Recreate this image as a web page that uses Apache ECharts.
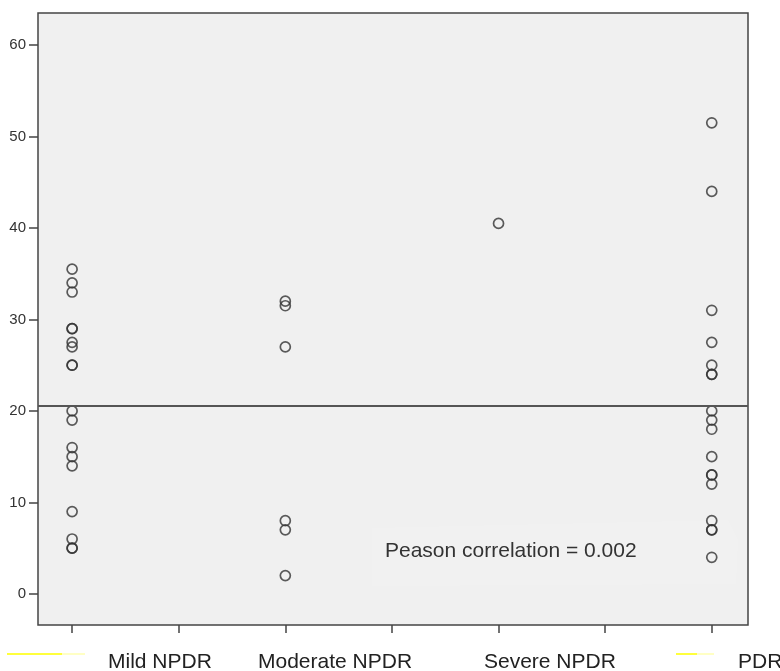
<!DOCTYPE html>
<html>
<head>
<meta charset="utf-8">
<script src="https://cdn.jsdelivr.net/npm/echarts@6/dist/echarts.min.js"></script>
<style>
  html, body { margin: 0; padding: 0; background: #ffffff; }
  #chart { width: 780px; height: 671px; }
</style>
</head>
<body>
<div id="chart"></div>
<script>
// Retinopathy groups along the x axis
const categories = ['Mild NPDR', 'Moderate NPDR', 'Severe NPDR', 'PDR'];

// Measured values per group
const mildValues = [35.5, 34, 33, 29, 29, 27.5, 27, 25, 25, 20, 19, 16, 15, 14, 9, 6, 5, 5];
const moderateValues = [32, 31.5, 27, 8, 7, 2];
const severeValues = [40.5];
const pdrValues = [51.5, 44, 31, 27.5, 25, 24, 24, 20, 19, 18, 15, 13, 13, 12, 8, 7, 7, 4];

// Overall mean shown as the horizontal reference line
const referenceValue = 20.6;
const correlationText = 'Peason correlation = 0.002';

const yTicks = [0, 10, 20, 30, 40, 50, 60];
const xTicks = [1, 1.5, 2, 2.5, 3, 3.5, 4];

const groups = [mildValues, moderateValues, severeValues, pdrValues];
const points = [];
groups.forEach((vals, i) => vals.forEach(v => points.push([i + 1, v])));

const chart = echarts.init(document.getElementById('chart'), null, { renderer: 'canvas' });

const labelFont = '"Liberation Sans", Arial, sans-serif';
const textFont = '21px ' + labelFont;

chart.setOption({
  animation: false,
  backgroundColor: '#ffffff',
  grid: {
    left: 38, right: 32, top: 13, bottom: 46,
    show: true,
    backgroundColor: '#f0f0f0',
    borderColor: '#444444',
    borderWidth: 1.5
  },
  xAxis: {
    type: 'value',
    min: 0.84,
    max: 4.17,
    position: 'bottom',
    axisLine: { show: false, onZero: false },
    splitLine: { show: false },
    axisLabel: { show: false },
    axisTick: {
      show: true,
      length: 8,
      customValues: xTicks,
      lineStyle: { color: '#444444', width: 1.5 }
    }
  },
  yAxis: {
    type: 'value',
    min: -3.4,
    max: 63.5,
    position: 'left',
    axisLine: { show: false, onZero: false },
    splitLine: { show: false },
    axisTick: {
      show: true,
      length: 9,
      customValues: yTicks,
      lineStyle: { color: '#444444', width: 1.5 }
    },
    axisLabel: {
      customValues: yTicks,
      margin: 12,
      color: '#333333',
      fontSize: 15,
      fontFamily: labelFont
    }
  },
  series: [{
    type: 'scatter',
    data: points,
    symbol: 'circle',
    symbolSize: 10,
    itemStyle: {
      color: 'rgba(0,0,0,0)',
      borderColor: '#333333',
      borderWidth: 1.7
    },
    markLine: {
      silent: true,
      symbol: ['none', 'none'],
      label: { show: false },
      lineStyle: { color: '#555555', width: 2, type: 'solid' },
      data: [{ yAxis: referenceValue }]
    },
    z: 3
  }],
  graphic: [
    // faint lighter box behind the annotation
    {
      type: 'polygon',
      silent: true,
      z: 1,
      shape: { points: [[372, 528], [728, 520], [738, 540], [736, 584], [372, 586]] },
      style: { fill: 'rgba(255,255,255,0.12)' }
    },
    {
      type: 'text',
      left: 385, top: 541,
      z: 5,
      style: { text: correlationText, font: textFont, fill: '#333333' }
    },
    // category names below the axis
    { type: 'text', left: 108, top: 652, style: { text: categories[0], font: textFont, fill: '#222222' } },
    { type: 'text', left: 258, top: 652, style: { text: categories[1], font: textFont, fill: '#222222' } },
    { type: 'text', left: 484, top: 652, style: { text: categories[2], font: textFont, fill: '#222222' } },
    { type: 'text', left: 738, top: 652, style: { text: categories[3], font: textFont, fill: '#222222' } },
    // yellow highlight strokes
    { type: 'line', shape: { x1: 7, y1: 654, x2: 62, y2: 654 }, style: { stroke: '#ffff3c', lineWidth: 2 } },
    { type: 'line', shape: { x1: 62, y1: 654, x2: 85, y2: 654 }, style: { stroke: '#ffffc4', lineWidth: 2 } },
    { type: 'line', shape: { x1: 676, y1: 654, x2: 697, y2: 654 }, style: { stroke: '#ffff3c', lineWidth: 2 } },
    { type: 'line', shape: { x1: 697, y1: 654, x2: 714, y2: 654 }, style: { stroke: '#ffffc4', lineWidth: 2 } }
  ]
});
</script>
</body>
</html>
